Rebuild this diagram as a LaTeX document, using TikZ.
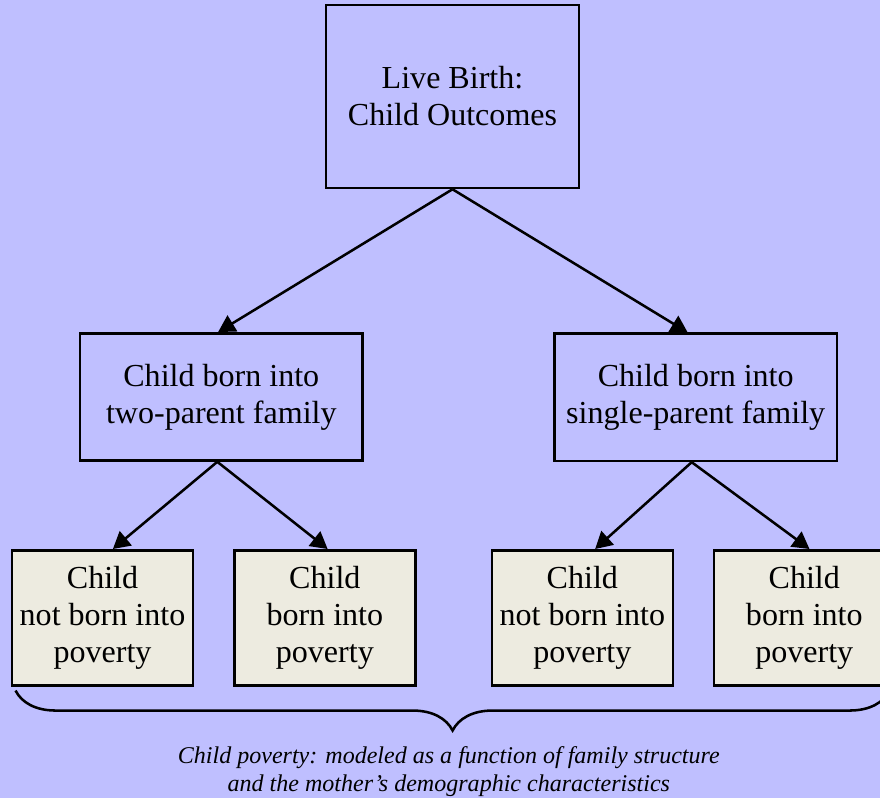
\documentclass[tikz,border=0pt]{standalone}
\usepackage{fontspec}
\setmainfont{Liberation Serif}
\usetikzlibrary{arrows.meta, positioning, decorations.pathreplacing}
\definecolor{lavender}{RGB}{191,191,255}
\definecolor{cream}{RGB}{237,235,224}
\tikzset{
  outcome/.style={rectangle, draw=black, line width=1.8pt, fill=lavender, align=center, inner sep=0pt, font=\fontsize{22.8pt}{26.3pt}\selectfont},
  topbox/.style={outcome, minimum width=6.325cm, minimum height=4.575cm},
  familybox/.style={outcome, minimum width=7.07cm, minimum height=3.18cm},
  povertybox/.style={outcome, fill=cream, minimum width=4.525cm, minimum height=3.375cm},
  arrow/.style={line width=1.8pt, -{Triangle[length=0.42cm, width=0.46cm]}},
  bracket/.style={line width=1.8pt, decorate, decoration={brace, mirror, amplitude=1cm}},
  note/.style={align=center, font=\fontsize{17.1pt}{19.9pt}\selectfont\itshape}
}
\begin{document}
\begin{tikzpicture}

  \fill[lavender] (0,0) rectangle (22,-19.95);
  \useasboundingbox (0,0) rectangle (22,-19.95);

  \node (birth) [topbox] at (11.3125,-2.4125) {Live Birth:\\Child Outcomes};
  \node (twoparent) [familybox, below=3.57cm of birth, xshift=-5.78cm] {Child born into\\two-parent family};
  \node (singleparent) [familybox, below=3.58cm of birth, xshift=6.08cm] {Child born into\\single-parent family};

  \node (tpnot) [povertybox, below=2.18cm of twoparent, xshift=-2.97cm] {Child\\not born into\\poverty};
  \node (tpyes) [povertybox, right=0.97cm of tpnot] {Child\\born into\\poverty};
  \node (spnot) [povertybox, right=1.85cm of tpyes] {Child\\not born into\\poverty};
  \node (spyes) [povertybox, right=0.96cm of spnot] {Child\\born into\\poverty};

  \draw [arrow] (birth.south) -- ([xshift=-0.08cm]twoparent.north);
  \draw [arrow] (birth.south) -- ([xshift=-0.2cm]singleparent.north);
  \draw [arrow] ([xshift=-0.1cm]twoparent.south) -- ([xshift=0.26cm]tpnot.north);
  \draw [arrow] ([xshift=-0.1cm]twoparent.south) -- ([xshift=0.07cm]tpyes.north);
  \draw [arrow] ([xshift=-0.1cm]singleparent.south) -- ([xshift=0.32cm]spnot.north);
  \draw [arrow] ([xshift=-0.1cm]singleparent.south) -- ([xshift=0.13cm]spyes.north);

  % brace under the four outcomes
  \draw [bracket] ([shift={(0.12cm,-0.1cm)}]tpnot.south west) -- ([shift={(-0.16cm,-0.1cm)}]spyes.south east);
  \node (caption) [note] at (11.22,-19.28) {Child poverty: modeled as a function of family structure\\and the mother’s demographic characteristics};

\end{tikzpicture}
\end{document}
